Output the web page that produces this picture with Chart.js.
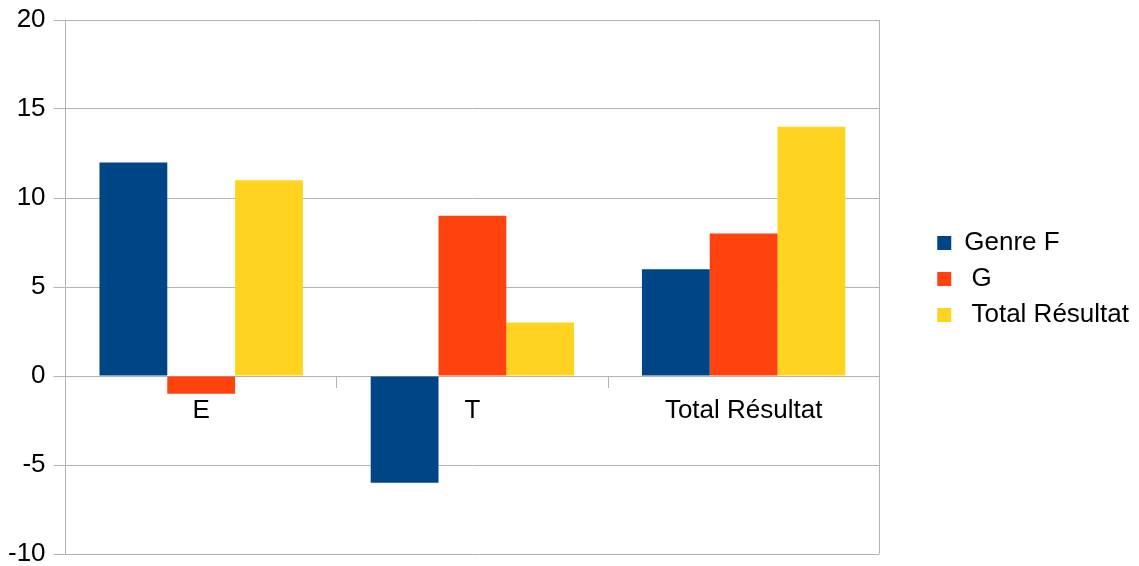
<!DOCTYPE html>
<html>
<head>
<meta charset="utf-8">
<script src="https://cdn.jsdelivr.net/npm/chart.js@4"></script>
<style>
  html, body { margin: 0; padding: 0; background: #fff; }
  #wrap { width: 1139px; height: 566px; }
</style>
</head>
<body>
<div id="wrap"><canvas id="chart"></canvas></div>
<script>
const categories = ['E', 'T', 'Total Résultat'];
const genreF = [12, -6, 6];
const genreG = [-1, 9, 8];
const totalResultat = [11, 3, 14];
const seriesNames = ['Genre F', ' G', ' Total Résultat'];

const GRID = '#b3b3b3';

// frame round the plot area (right edge has no axis of its own)
const frame = {
  id: 'frame',
  afterLayout(chart) {
    // legend block sits a little above the middle in the original
    chart.legend.top -= 8;
    chart.legend.bottom -= 8;
  },
  afterDraw(chart) {
    const { ctx, chartArea: a } = chart;
    ctx.save();
    ctx.strokeStyle = GRID;
    ctx.lineWidth = 1;
    ctx.beginPath();
    ctx.moveTo(Math.round(a.right) + 0.5, a.top);
    ctx.lineTo(Math.round(a.right) + 0.5, a.bottom);
    ctx.stroke();
    ctx.restore();
  }
};

Chart.defaults.font.family = '"Liberation Sans", Arial, sans-serif';
Chart.defaults.color = '#000';

new Chart(document.getElementById('chart'), {
  type: 'bar',
  data: {
    labels: categories,
    datasets: [
      { label: seriesNames[0], data: genreF, backgroundColor: '#004586' },
      { label: seriesNames[1], data: genreG, backgroundColor: '#ff420e' },
      { label: seriesNames[2], data: totalResultat, backgroundColor: '#ffd320' },
    ],
  },
  options: {
    responsive: true,
    maintainAspectRatio: false,
    animation: false,
    categoryPercentage: 0.75,
    barPercentage: 1.0,
    layout: { padding: { top: 20, left: 0, right: 0, bottom: 12 } },
    plugins: {
      tooltip: { enabled: false },
      legend: {
        position: 'right',
        maxWidth: 300,
        labels: {
          boxWidth: 14,
          boxHeight: 14,
          padding: 10,
          font: { size: 26 },
          color: '#000',
        },
      },
    },
    scales: {
      x: {
        position: { y: 0 },
        afterFit: s => { s.height = 0; },
        grid: {
          offset: true,
          drawOnChartArea: false,
          color: GRID,
          tickLength: 11,
        },
        border: { color: GRID },
        ticks: { font: { size: 26 }, padding: 8, color: '#000' },
      },
      y: {
        min: -10,
        max: 20,
        afterFit: s => { s.paddingTop = 0; s.paddingBottom = 0; },
        ticks: { stepSize: 5, font: { size: 26 }, padding: 8, color: '#000' },
        grid: { color: GRID, tickLength: 12 },
        border: { color: GRID },
      },
      spacer: {
        type: 'linear',
        position: 'right',
        display: true,
        afterFit: s => { s.width = 48; },
        grid: { display: false },
        border: { display: false },
        ticks: { display: false },
      },
    },
  },
  plugins: [frame],
});
</script>
</body>
</html>
